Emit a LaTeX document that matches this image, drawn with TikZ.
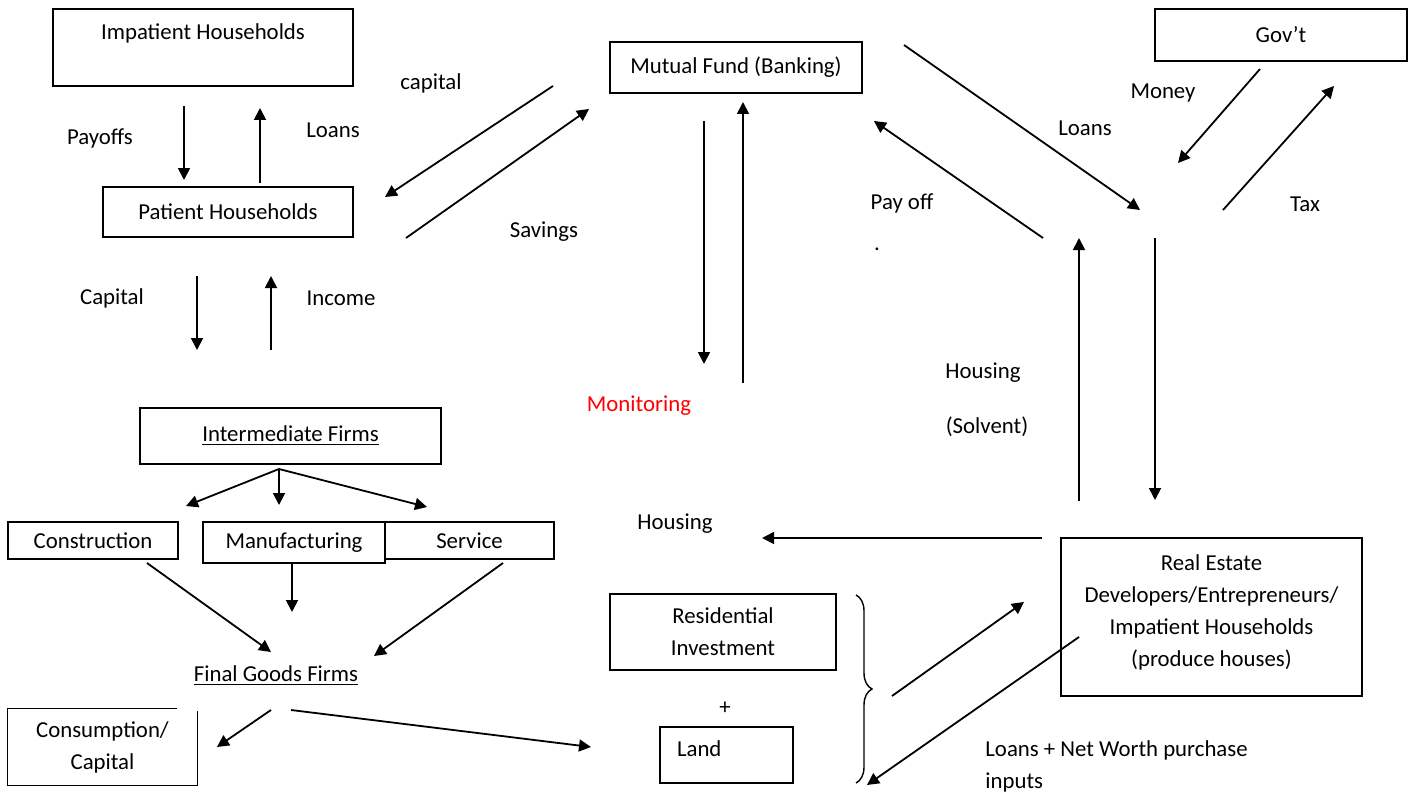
\documentclass[tikz,border=0pt]{standalone}
\usepackage{fontspec}
\setmainfont{Carlito}
\usetikzlibrary{arrows.meta,decorations.pathreplacing}

\begin{document}
\begin{tikzpicture}[x=0.5pt,y=-0.5pt,
    every node/.style={font=\fontsize{11.4}{16}\selectfont, inner sep=0pt},
    box/.style={draw, line width=0.7pt, align=center},
    flow/.style={-{Triangle[length=6pt,width=6pt]}, line width=0.9pt}]
  \useasboundingbox (0,0) rectangle (1413,792);
  % boxes
  \node[box, minimum width=150pt, minimum height=38.5pt] (impatient) at (203,47.5) {Impatient Households\\ \mbox{}};
  \node[box, minimum width=125pt, minimum height=25pt] (patient) at (228,212) {Patient Households};
  \node[box, minimum width=126pt, minimum height=25.5pt] (fund) at (736,67.5) {Mutual Fund (Banking)};
  \node[box, minimum width=126pt, minimum height=26pt] (govt) at (1281,35) {Gov’t};
  \node[box, minimum width=150.5pt, minimum height=28pt] (inter) at (290.5,436) {\underline{Intermediate Firms}};
  \node[box, minimum width=85pt, minimum height=18.5pt] (constr) at (93,540.5) {Construction};
  \node[box, minimum width=91pt, minimum height=20.5pt] (manuf) at (294,542.5) {Manufacturing};
  \node[box, minimum width=84.5pt, minimum height=18.5pt] (serv) at (469.5,540.5) {Service};
  \node[align=center, minimum width=94.5pt, minimum height=38pt] (cons) at (102.5,747) {Consumption/\\Capital};
  \draw[line width=0.7pt] ([xshift=-10pt]cons.north east) -- (cons.north west) -- (cons.south west)
    -- (cons.south east) -- ([yshift=-1pt]cons.north east);
  \node[box, minimum width=113pt, minimum height=38pt] (resid) at (723,632) {Residential\\Investment};
  \node[box, minimum width=66.5pt, minimum height=28pt, text width=49.5pt, inner xsep=8.5pt, align=left] (land) at (726.5,755) {Land\\[-10pt]\mbox{}};
  \node[box, minimum width=150.5pt, minimum height=79pt] (estate) at (1211.5,617) {Real Estate\\Developers/Entrepreneurs/\\Impatient Households\\(produce houses)\\[-10pt]\mbox{}};
  \node (final) at (276,676) {\underline{Final Goods Firms}};
  % labels
  \node (payoffs) at (100,138) {Payoffs};
  \node (loansup) at (333,130) {Loans};
  \node (capital) at (431,83) {capital};
  \node (savings) at (544,232) {Savings};
  \node (capdown) at (112,298) {Capital};
  \node (income) at (341,298) {Income};
  \node[text=red] (monitor) at (639,406) {Monitoring};
  \node (money) at (1163,93) {Money};
  \node (lending) at (1085,128) {Loans};
  \node (payoff) at (902,203) {Pay off};
  \node (dot) at (877,249) {.};
  \node (tax) at (1305,204) {Tax};
  \node (housing) at (983,373) {Housing};
  \node (solvent) at (987,427) {(Solvent)};
  \node (housed) at (675,524) {Housing};
  \node (plus) at (725,708) {+};
  \node[anchor=base west, align=left] (inputs) at (985,788) {Loans + Net Worth purchase\\inputs};
  % free ends of the arrows
  \foreach \n/\x/\y in {pay-a/184/106, pay-b/184/180, loan-a/260/183, loan-b/260/108,
      cap-a/553/86, cap-b/385/197, sav-a/406/238, sav-b/589/109,
      capd-a/197/276, capd-b/197/350, inc-a/271/350, inc-b/271/276,
      mon-a/704/121, mon-b/704/364, ret-a/743/383, ret-b/743/102,
      lend-a/904/45, lend-b/1140/210, repay-a/1043/238, repay-b/874/121,
      money-a/1260/69, money-b/1178/163, tax-a/1223/210, tax-b/1334/86,
      solv-a/1079/501, solv-b/1079/238, down-a/1155/238, down-b/1155/500,
      house-a/1042/538, house-b/762/538,
      br/279/469, br-c/186/506, br-m/279/505, br-s/427/507,
      c-a/147/563, c-b/271/652, m-a/292/563, m-b/292/612, s-a/503/563, s-b/374/656,
      f-a/271/710, f-b/217/747, g-a/291/710, g-b/591/747,
      brace-a/856/595, brace-b/856/783,
      inv-a/892/696, inv-b/1024/602, buy-a/1079/637, buy-b/867/785}
    \coordinate (\n) at (\x,\y);
  \path[flow]
    (pay-a) edge (pay-b)
    (loan-a) edge (loan-b)
    (cap-a) edge (cap-b)
    (sav-a) edge (sav-b)
    (capd-a) edge (capd-b)
    (inc-a) edge (inc-b)
    (mon-a) edge (mon-b)
    (ret-a) edge (ret-b)
    (lend-a) edge (lend-b)
    (repay-a) edge (repay-b)
    (money-a) edge (money-b)
    (tax-a) edge (tax-b)
    (solv-a) edge (solv-b)
    (down-a) edge (down-b)
    (house-a) edge (house-b)
    (br) edge (br-c) edge (br-m) edge (br-s)
    (c-a) edge (c-b)
    (m-a) edge (m-b)
    (s-a) edge (s-b)
    (f-a) edge (f-b)
    (g-a) edge (g-b)
    (inv-a) edge (inv-b)
    (buy-a) edge (buy-b);
  \draw[line width=0.7pt, decorate, decoration={brace, amplitude=8pt}] (brace-a) -- (brace-b);
\end{tikzpicture}
\end{document}
